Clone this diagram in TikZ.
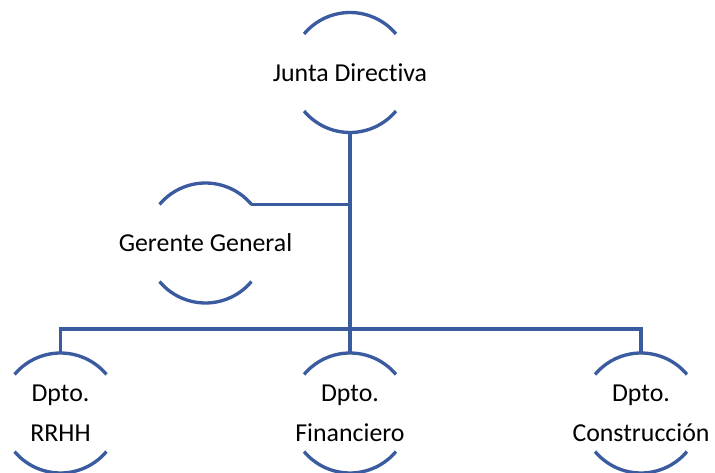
\documentclass[tikz,border=0pt]{standalone}
\usepackage{fontspec}
\setmainfont[Ligatures=NoCommon]{Carlito}
\definecolor{orgblue}{RGB}{59,91,160}
\tikzset{
  unit/.style={circle,minimum size=2.4cm,inner sep=0pt,outer sep=0pt},
  txt/.style={align=center,inner sep=0pt,font=\fontsize{14.7}{22.7}\selectfont},
  link/.style={orgblue,line width=1.9pt},
}

\begin{document}
\begin{tikzpicture}
  \useasboundingbox (0,0) rectangle (14.3,9.44);
  \node[unit,label={[txt]center:Junta Directiva}]     (jd)   at (7.0,7.99)  {};
  \node[unit,label={[txt]center:Gerente General}]     (gg)   at (4.11,4.58) {};
  \node[unit,label={[txt]center:{Dpto.\\RRHH}}]        (rrhh) at (1.21,1.18) {};
  \node[unit,label={[txt]center:{Dpto.\\Financiero}}]  (fin)  at (7.0,1.18)  {};
  \node[unit,label={[txt]center:{Dpto.\\Construcción}}] (cons) at (12.82,1.18) {};
  % upper and lower arcs of each circle
  \foreach \n in {jd,gg,rrhh,fin,cons} {
     \draw[link] (\n.40)  arc[start angle=40,end angle=140,radius=1.2cm];
     \draw[link] (\n.220) arc[start angle=220,end angle=320,radius=1.2cm];
  }
  \coordinate (bus) at (7.0,2.86);
  \draw[link] (jd.south) -- (bus);
  \draw[link] (gg.40) -- (gg.40 -| jd.south);
  \draw[link] (rrhh.north) |- (bus);
  \draw[link] (cons.north) |- (bus);
  \draw[link] (fin.north) -- (bus);
\end{tikzpicture}
\end{document}
